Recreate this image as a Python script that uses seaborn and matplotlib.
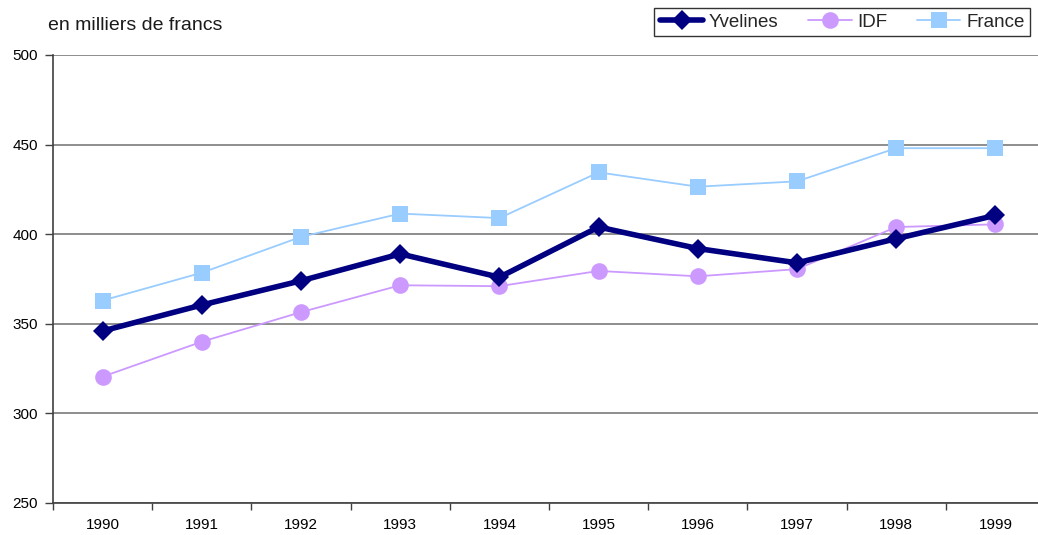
import matplotlib
matplotlib.use("Agg")
import matplotlib.pyplot as plt
from matplotlib.ticker import FixedLocator
import numpy as np
import pandas as pd
import seaborn as sns

years = [1990, 1991, 1992, 1993, 1994, 1995, 1996, 1997, 1998, 1999]
yvelines = [346, 360.5, 374, 389, 376, 404, 392, 384, 397.5, 410.5]
idf = [320.5, 340, 356.5, 371.5, 371, 379.5, 376.5, 380.5, 404, 405.5]
france = [363, 378.5, 398.5, 411.5, 409, 434.5, 426.5, 429.5, 448, 448]
y_ticks = [250, 300, 350, 400, 450, 500]

sns.set_theme(style="white")
plt.rcParams["font.family"] = ["Liberation Sans", "DejaVu Sans"]

fig = plt.figure(figsize=(10.38, 5.35), dpi=100)
W, H = 1038, 535
ax = fig.add_axes([53 / W, (H - 503) / H, 992 / W, 448 / H])

series = [
    ("Yvelines", yvelines, "#000080", "D", 4.0, 10.5),
    ("IDF", idf, "#CC99FF", "o", 1.3, 12),
    ("France", france, "#99CCFF", "s", 1.3, 11.5),
]
for name, vals, color, marker, lw, ms in series:
    df = pd.DataFrame({"year": years, "value": vals})
    sns.lineplot(data=df, x="year", y="value", ax=ax, color=color, marker=marker,
                 linewidth=lw, markersize=ms, markeredgewidth=0, label=name,
                 zorder=3 if name == "Yvelines" else 2)

ax.set_xlim(years[0] - 0.5, years[-1] + 0.5)
ax.set_ylim(y_ticks[0], y_ticks[-1])
ax.set_yticks(y_ticks)
ax.set_xticks(years)
ax.set_xticklabels([str(y) for y in years])
ax.xaxis.set_minor_locator(FixedLocator([y + 0.5 for y in [years[0] - 1] + years]))
ax.tick_params(axis="x", which="major", length=0, pad=11, labelsize=11, colors="#000000")
ax.tick_params(axis="x", which="minor", length=5, width=1, color="#404040", direction="out", bottom=True)
ax.tick_params(axis="y", length=6, width=1, color="#404040", direction="out", left=True,
               labelsize=11, pad=5, colors="#000000")
ax.set_xlabel("")
ax.set_ylabel("")

ax.grid(axis="y", color="#7a7a7a", linewidth=1.2)
ax.set_axisbelow(True)
for side in ["top", "right"]:
    ax.spines[side].set_visible(False)
ax.spines["left"].set_color("#404040")
ax.spines["left"].set_linewidth(1.2)
ax.spines["bottom"].set_color("#404040")
ax.spines["bottom"].set_linewidth(1.2)

fig.text(48 / W, 1 - 26 / H, "en milliers de francs", fontsize=14, va="center", ha="left",
         color="#1a1a1a")

leg = ax.legend(loc="upper right", bbox_to_anchor=(1030 / W, 1 - 8 / H),
                bbox_transform=fig.transFigure, ncol=3, frameon=True, fancybox=False,
                fontsize=13.5, handlelength=2.3, handletextpad=0.3, columnspacing=1.6,
                borderpad=0.3, borderaxespad=0)
leg.get_frame().set_edgecolor("#000000")
leg.get_frame().set_linewidth(1.0)

fig.savefig("out.png", dpi=100)
